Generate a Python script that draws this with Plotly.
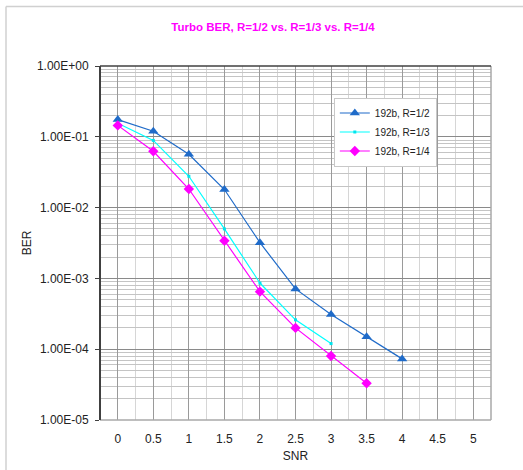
import plotly.graph_objects as go

snr_half = [0, 0.5, 1, 1.5, 2, 2.5, 3, 3.5, 4]
ber_half = [0.175, 0.12, 0.0566, 0.018, 0.0032, 7.1e-4, 3.1e-4, 1.5e-4, 7.3e-5]

snr_third = [0, 0.5, 1, 1.5, 2, 2.5, 3]
ber_third = [0.155, 0.089, 0.0277, 0.005, 8.6e-4, 2.6e-4, 1.2e-4]

snr_quarter = [0, 0.5, 1, 1.5, 2, 2.5, 3, 3.5]
ber_quarter = [0.145, 0.0624, 0.0183, 0.0034, 6.5e-4, 2.0e-4, 8.0e-5, 3.3e-5]

x_ticks = [0, 0.5, 1, 1.5, 2, 2.5, 3, 3.5, 4, 4.5, 5]
y_tickvals = [1, 1e-1, 1e-2, 1e-3, 1e-4, 1e-5]
y_ticktext = ["1.00E+00", "1.00E-01", "1.00E-02", "1.00E-03", "1.00E-04", "1.00E-05"]

FONT = "Liberation Sans, Arial, sans-serif"

fig = go.Figure()
fig.add_trace(go.Scatter(
    x=snr_half, y=ber_half, name="192b, R=1/2", mode="lines+markers",
    line=dict(color="#1f6bc9", width=1.2),
    marker=dict(symbol="triangle-up", size=9, color="#1f6bc9")))
fig.add_trace(go.Scatter(
    x=snr_third, y=ber_third, name="192b, R=1/3", mode="lines+markers",
    line=dict(color="#00ffff", width=1.2),
    marker=dict(symbol="square", size=3, color="#00e5ee")))
fig.add_trace(go.Scatter(
    x=snr_quarter, y=ber_quarter, name="192b, R=1/4", mode="lines+markers",
    line=dict(color="#ff00ff", width=1.2),
    marker=dict(symbol="diamond", size=8, color="#ff00ff")))

shapes = [
    # outer chart border (light gray)
    dict(type="line", xref="paper", yref="paper", x0=-0.2404, x1=1.2, y0=1.168, y1=1.168,
         line=dict(color="#d0d0d0", width=1.5)),
    dict(type="line", xref="paper", yref="paper", x0=-0.2404, x1=-0.2404, y0=-0.2, y1=1.168,
         line=dict(color="#d0d0d0", width=1.5)),
    # plot area border
    dict(type="line", xref="paper", yref="paper", x0=0, x1=1, y0=0, y1=0,
         line=dict(color="#a8a8a8", width=1.5)),
    dict(type="line", xref="paper", yref="paper", x0=1, x1=1, y0=0, y1=1,
         line=dict(color="#a8a8a8", width=1.5)),
    dict(type="line", xref="paper", yref="paper", x0=0, x1=1, y0=1, y1=1,
         line=dict(color="#404040", width=1.5)),
    dict(type="line", xref="paper", yref="paper", x0=0, x1=0, y0=0, y1=1,
         line=dict(color="#404040", width=2)),
]

fig.update_layout(
    width=523, height=470,
    margin=dict(l=100, r=32, t=66, b=50, autoexpand=False),
    paper_bgcolor="white", plot_bgcolor="white",
    font=dict(family=FONT, size=12, color="#222222"),
    title=dict(text="<b>Turbo BER, R=1/2 vs. R=1/3 vs. R=1/4</b>",
               font=dict(family=FONT, size=11.5, color="#ff00ff"),
               x=273 / 523, xanchor="center", y=1 - 27 / 470, yanchor="middle"),
    showlegend=True,
    legend=dict(x=0.598, y=0.911, xanchor="left", yanchor="top",
                bgcolor="white", bordercolor="#c8c8c8", borderwidth=1,
                font=dict(family=FONT, size=10, color="#222222"),
                tracegroupgap=0, itemwidth=30),
    shapes=shapes,
    xaxis=dict(
        range=[-0.25, 5.25], tickvals=x_ticks, ticks="", showline=False,
        showgrid=True, gridcolor="#9a9a9a", gridwidth=1,
        minor=dict(dtick=0.25, tick0=0, showgrid=True, gridcolor="#d6d6d6", gridwidth=1),
        zeroline=False, tickfont=dict(size=12), ticklabelstandoff=10,
        automargin=False,
        title=dict(text="SNR", font=dict(size=12), standoff=6),
    ),
    yaxis=dict(
        type="log", range=[-5, 0], tickvals=y_tickvals, ticktext=y_ticktext,
        ticks="outside", ticklen=4, tickcolor="#404040", showline=False,
        showgrid=True, gridcolor="#8a8a8a", gridwidth=1,
        minor=dict(dtick="D1", showgrid=True, gridcolor="#c4c4c4", gridwidth=1, ticks=""),
        zeroline=False, tickfont=dict(size=12), ticklabelstandoff=4,
        automargin=False,
        title=dict(text="BER", font=dict(size=12), standoff=2),
    ),
)

fig.write_html("out.html", config={"displayModeBar": False},
               post_script="document.body.style.margin='0';")
